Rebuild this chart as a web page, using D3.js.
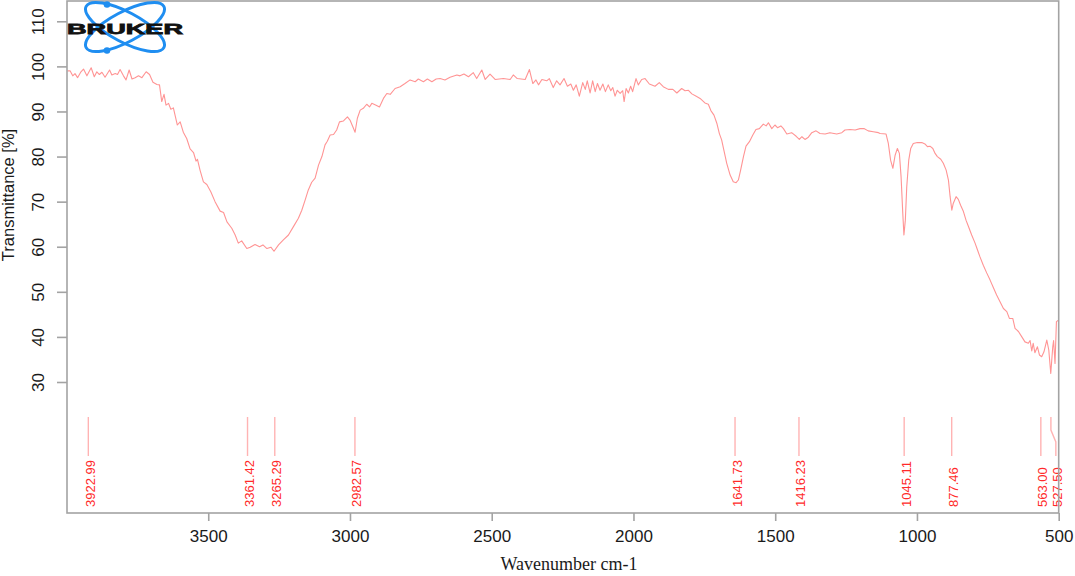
<!DOCTYPE html>
<html>
<head>
<meta charset="utf-8">
<script src="https://cdn.jsdelivr.net/npm/d3@7"></script>
<style>
  html, body { margin: 0; padding: 0; background: #ffffff; }
  svg { display: block; }
</style>
</head>
<body>
<div id="chart"></div>
<script>
// ---------- DATA ----------
const wavenumbers = [
  3997,3987,3978,3970,3961,3949,3940,3928,3913,3902,3893,3884,3875,3864,3848,3840,3828,3820,3811,3799,
  3790,3779,3769,3758,3746,3734,3719,3707,3695,3681,3672,3664,3656,3649,3640,3632,3623,3609,3599,3588,
  3576,3564,3552,3543,3538,3529,3517,3505,3491,3476,3458,3446,3434,3417,3405,3394,3382,3364,
  3352,3335,3319,3307,3293,3279,3268,3252,3235,3217,3200,3182,3170,3158,3147,3135,3123,3111,3099,3088,
  3080,3070,3058,3047,3037,3023,3009,3000,2990,2982,2974,2964,2953,2941,2931,2923,2908,2896,2882,2870,
  2858,2841,2823,2806,2788,2770,2759,2741,2727,2711,2696,
  2682,2665,2647,2623,2612,2598,2582,2565,2553,2535,2523,2506,2488,2459,2435,2424,2410,2382,2367,2355,
  2344,2335,2323,2306,2297,2283,2271,2259,2245,2233,2221,2212,2202,2191,2179,2170,2163,2153,2144,2135,
  2127,2118,2108,2099,2089,2080,2073,2065,2057,2047,2038,2033,2026,2018,2010,2003,1991,1983,1971,1959,
  1944,1924,1909,1895,1877,1861,1847,1830,1818,1806,
  1794,1777,1765,1748,1736,1727,1716,1706,1697,1689,1680,1671,1659,1648,1638,1630,1622,1612,1603,1591,
  1579,1568,1556,1542,1532,1524,1512,1501,1492,1480,1471,1459,1442,1426,1415,1406,1395,1383,1371,1356,
  1342,1324,1307,1283,1265,1254,1236,1218,1201,1187,1172,1154,1136,
  1130,1109,1101,1093,1085,1077,1069,1062,1056,1050,1046,1041,1036,1029,1022,1013,999,983,972,963,
  954,944,936,928,916,907,897,889,883,877,872,862,854,846,836,827,819,807,795,787,
  778,766,754,742,731,719,707,695,683,674,662,654,642,630,619,607,601,595,590,584,
  575,568,560,552,542,535,528,521,518,513,508,501
];
const transmittance = [
  99.0,99.0,97.9,98.4,97.5,98.8,99.4,97.9,99.7,97.7,98.8,98.2,98.7,97.6,99.2,98.1,98.4,98.2,99.3,97.9,
  97.0,99.2,97.2,97.5,97.9,97.5,98.8,98.2,96.5,96.0,95.9,92.2,93.8,91.4,91.8,90.5,90.8,87.0,87.7,85.4,
  84.0,81.7,80.9,79.0,79.4,77.0,74.4,73.8,72.2,70.0,67.9,67.6,65.5,64.1,62.6,60.8,61.3,59.6,
  59.9,60.5,60.0,60.4,59.6,59.9,59.0,60.4,61.5,62.6,64.4,66.3,68.1,70.4,72.6,74.3,75.2,78.1,80.0,82.6,
  83.4,84.8,84.9,85.9,87.7,87.9,88.8,88.1,86.6,85.4,88.5,90.3,90.7,91.6,91.0,91.8,91.4,91.0,92.9,94.0,
  93.8,95.1,95.5,96.2,97.0,96.6,97.2,96.6,97.2,96.6,97.2,
  97.3,97.0,97.6,98.1,97.9,98.3,97.7,98.6,97.3,99.2,97.1,98.3,97.1,97.3,97.1,98.1,97.3,97.1,99.3,96.2,
  97.0,95.9,97.1,96.8,97.3,95.3,96.8,95.9,97.3,95.6,96.1,94.7,95.9,93.4,96.4,94.9,96.8,94.1,96.8,94.4,
  96.2,94.7,96.1,94.4,95.9,94.6,95.3,93.4,94.7,94.0,94.6,92.2,95.1,94.1,95.6,94.4,97.3,95.9,97.1,97.3,
  96.1,95.6,96.4,95.5,94.9,94.9,94.1,95.1,94.6,94.7,
  93.9,93.3,92.9,91.9,91.6,90.2,89.2,87.4,85.1,83.7,81.1,78.5,75.9,74.4,74.2,74.8,77.0,80.0,82.3,83.3,
  84.8,86.0,86.2,87.2,86.8,87.5,86.2,87.0,86.4,86.8,86.2,85.0,85.3,84.5,83.8,84.4,83.8,84.3,85.3,85.7,
  85.1,85.0,85.3,85.0,85.3,85.9,86.0,85.9,86.2,86.2,85.7,85.5,85.3,
  85.1,85.0,82.9,79.2,77.4,80.3,81.8,80.7,75.5,67.4,62.6,65.9,73.3,79.2,81.8,82.9,83.1,83.1,82.8,82.2,
  82.3,81.8,80.7,80.0,79.4,78.5,77.0,74.8,71.1,68.1,69.6,71.1,70.5,69.2,67.8,65.9,64.6,62.6,60.8,59.4,
  57.8,55.9,54.2,52.6,51.0,49.3,47.8,46.3,45.6,44.1,44.1,41.9,41.2,40.0,38.9,38.6,39.2,36.9,38.6,36.5,
  37.8,36.0,35.6,36.7,39.3,37.1,31.9,37.8,39.2,34.1,43.4,43.7
];
const peakWavenumbers = [3922.99, 3361.42, 3265.29, 2982.57, 1641.73, 1416.23, 1045.11, 877.46, 563.00, 527.50];
const peakLabels = ["3922.99", "3361.42", "3265.29", "2982.57", "1641.73", "1416.23", "1045.11", "877.46", "563.00", "527.50"];
const xTicks = [3500, 3000, 2500, 2000, 1500, 1000, 500];
const yTicks = [30, 40, 50, 60, 70, 80, 90, 100, 110];
const xTitle = "Wavenumber cm-1";
const yTitle = "Transmittance [%]";

// ---------- LAYOUT ----------
const W = 1075, H = 576;
const box = { left: 67, right: 1058.7, top: 1, bottom: 513 };

const svg = d3.select("#chart").append("svg")
  .attr("width", W).attr("height", H)
  .attr("viewBox", `0 0 ${W} ${H}`);

const x = d3.scaleLinear().domain([4000, 500]).range([66.5, 1058.7]);
const y = d3.scaleLinear().domain([30, 110]).range([382, 21.3]);

const sans = "'Liberation Sans', Arial, Helvetica, sans-serif";
const serif = "'Liberation Serif', 'Times New Roman', Times, serif";
const axisGray = "#a3a3a3";

// ---------- SPECTRUM ----------
const points = wavenumbers.map((w, i) => [w, transmittance[i]]);
const line = d3.line().x(d => x(d[0])).y(d => y(d[1])).curve(d3.curveLinear);
svg.append("path")
  .datum(points)
  .attr("d", line)
  .attr("fill", "none")
  .attr("stroke", "#ff9494")
  .attr("stroke-width", 1.1)
  .attr("stroke-linejoin", "round");

// ---------- PEAK MARKERS ----------
const peakX = peakWavenumbers.map(w => x(w));
const order = d3.range(peakX.length).sort((a, b) => peakX[a] - peakX[b]);
const labelX = new Array(peakX.length);
let prev = -Infinity;
order.forEach(i => {
  const lx = Math.max(peakX[i], prev + 15);
  labelX[i] = lx;
  prev = lx;
});
const peaksG = svg.append("g");
peakWavenumbers.forEach((w, i) => {
  const px = peakX[i], lx = labelX[i];
  const pts = Math.abs(lx - px) < 0.5
    ? [[px, 417], [px, 456]]
    : [[px, 417], [px, 430], [lx, 442], [lx, 456]];
  peaksG.append("path")
    .attr("d", d3.line()(pts))
    .attr("fill", "none")
    .attr("stroke", "#ffb3b3")
    .attr("stroke-width", 1.4);
  peaksG.append("text")
    .attr("transform", `translate(${lx + 6.5},507) rotate(-90)`)
    .attr("text-anchor", "start")
    .attr("font-family", sans)
    .attr("font-size", 13)
    .attr("fill", "#ff2a2a")
    .text(peakLabels[i]);
});

// ---------- AXES ----------
svg.append("rect")
  .attr("x", box.left).attr("y", box.top)
  .attr("width", box.right - box.left).attr("height", box.bottom - box.top)
  .attr("fill", "none").attr("stroke", axisGray).attr("stroke-width", 1.6);

const xAxis = d3.axisBottom(x).tickValues(xTicks).tickSize(8).tickPadding(9).tickFormat(d3.format("d"));
const gx = svg.append("g").attr("transform", `translate(0,${box.bottom})`).call(xAxis);
gx.select(".domain").remove();
gx.selectAll(".tick line").attr("stroke", axisGray).attr("stroke-width", 1.6);
gx.selectAll(".tick text")
  .attr("font-family", sans).attr("font-size", 17).attr("fill", "#1a1a1a");

const yAxis = d3.axisLeft(y).tickValues(yTicks).tickSize(10).tickFormat(d3.format("d"));
const gy = svg.append("g").attr("transform", `translate(${box.left},0)`).call(yAxis);
gy.select(".domain").remove();
gy.selectAll(".tick line").attr("stroke", axisGray).attr("stroke-width", 1.6);
gy.selectAll(".tick text")
  .attr("x", null).attr("dy", null)
  .attr("transform", "translate(-23,0) rotate(-90)")
  .attr("text-anchor", "middle")
  .attr("font-family", sans).attr("font-size", 17).attr("fill", "#1a1a1a");

svg.append("text")
  .attr("x", 569).attr("y", 570)
  .attr("text-anchor", "middle")
  .attr("font-family", serif).attr("font-size", 18).attr("fill", "#1a1a1a")
  .text(xTitle);
svg.append("text")
  .attr("transform", "translate(14,195) rotate(-90)")
  .attr("text-anchor", "middle")
  .attr("font-family", sans).attr("font-size", 16.5).attr("fill", "#1a1a1a")
  .text(yTitle);

// ---------- LOGO ----------
const logo = svg.append("g");
const blue = "#1f8ef1";
[28, -28].forEach(a => {
  logo.append("ellipse")
    .attr("cx", 125).attr("cy", 27).attr("rx", 44).attr("ry", 15)
    .attr("transform", `rotate(${a},125,27)`)
    .attr("fill", "none").attr("stroke", blue).attr("stroke-width", 3);
});
logo.append("circle").attr("cx", 107).attr("cy", 4.5).attr("r", 3.3).attr("fill", blue);
logo.append("circle").attr("cx", 107).attr("cy", 50.5).attr("r", 3.3).attr("fill", blue);
logo.append("text")
  .attr("x", 125).attr("y", 33.5)
  .attr("text-anchor", "middle")
  .attr("font-family", sans).attr("font-weight", 900).attr("font-size", 15.5)
  .attr("textLength", 116).attr("lengthAdjust", "spacingAndGlyphs")
  .attr("fill", "#111").attr("stroke", "#111").attr("stroke-width", 0.8)
  .text("BRUKER");
</script>
</body>
</html>
